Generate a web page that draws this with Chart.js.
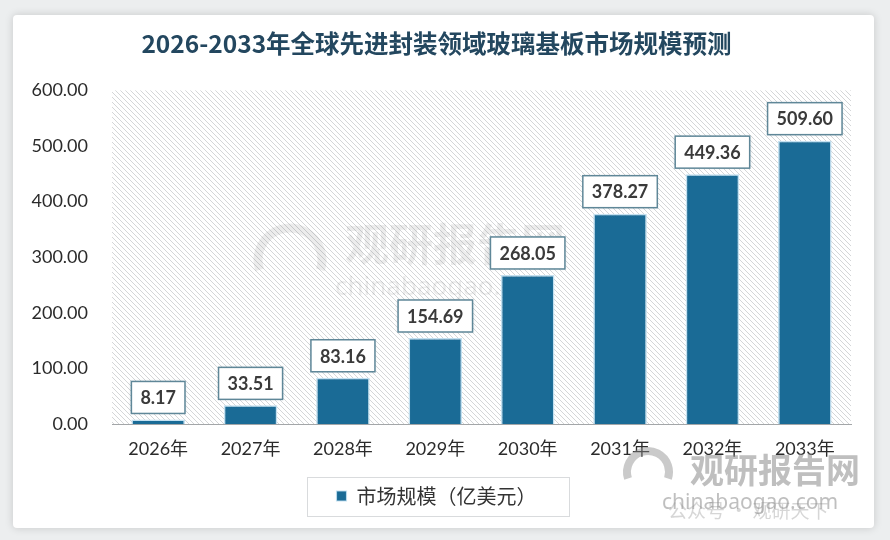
<!DOCTYPE html>
<html><head><meta charset="utf-8">
<script src="https://cdn.jsdelivr.net/npm/chart.js@4.4.0/dist/chart.umd.min.js"></script>
<style>
html,body{margin:0;padding:0;width:890px;height:540px;background:#eceeef;overflow:hidden}
#card{position:absolute;left:13px;top:15px;width:861px;height:513px;background:#fff;border-radius:4px;box-shadow:0 0 9px rgba(0,0,0,0.16)}
#wrap{position:absolute;left:0;top:0;width:890px;height:540px}
</style></head><body>
<div id="card"></div>
<div id="wrap"><canvas id="c" width="890" height="540"></canvas></div>
<script>
const titleText = '2026-2033年全球先进封装领域玻璃基板市场规模预测';
const categories = ['2026年','2027年','2028年','2029年','2030年','2031年','2032年','2033年'];
const seriesName = '市场规模（亿美元）';
const marketSize = [8.17, 33.51, 83.16, 154.69, 268.05, 378.27, 449.36, 509.60];
const yMin = 0, yMax = 600, yStep = 100;

const BAR_COLOR = '#1a6b96';
const FONT = "Lato, 'Noto Sans CJK SC', sans-serif";

function makeHatch(){
  const p = document.createElement('canvas');
  p.width = 5; p.height = 5;
  const g = p.getContext('2d');
  g.fillStyle = '#ffffff'; g.fillRect(0,0,5,5);
  g.strokeStyle = '#d4d6d8'; g.lineWidth = 1;
  g.beginPath();
  g.moveTo(-1,-1); g.lineTo(6,6);
  g.moveTo(-1,4); g.lineTo(1,6);
  g.moveTo(4,-1); g.lineTo(6,1);
  g.stroke();
  return p;
}

const bgPlugin = {
  id:'bg',
  beforeDraw(chart){
    const {ctx, chartArea:a} = chart;
    ctx.save();
    ctx.fillStyle = ctx.createPattern(makeHatch(),'repeat');
    ctx.fillRect(a.left, a.top, a.right-a.left, a.bottom-a.top);
    // faint central watermark
    ctx.globalAlpha = 0.11;
    ctx.fillStyle = '#555';
    ctx.font = "bold 44px 'Noto Sans CJK SC'";
    ctx.textBaseline = 'middle'; ctx.textAlign = 'left';
    ctx.fillText('观研报告网', 345, 244);
    ctx.font = "26px 'Noto Sans', sans-serif";
    ctx.fillText('chinabaogao.com', 335, 288);
    ctx.lineWidth = 9; ctx.strokeStyle = '#555';
    ctx.beginPath(); ctx.arc(290, 260, 32, Math.PI*0.9, Math.PI*2.1); ctx.stroke();
    ctx.restore();
  }
};

const labelPlugin = {
  id:'vals',
  afterDatasetsDraw(chart){
    const {ctx} = chart;
    const meta = chart.getDatasetMeta(0);
    ctx.save();
    ctx.font = "bold 18px " + FONT;
    ctx.textAlign = 'center'; ctx.textBaseline = 'middle';
    meta.data.forEach((bar,i)=>{
      const txt = marketSize[i].toFixed(2);
      const w = ctx.measureText(txt).width + 18;
      const h = 32;
      const bottom = bar.y - 6;
      const x0 = bar.x - w/2, y0 = bottom - h;
      ctx.shadowColor = 'rgba(0,60,90,0.18)'; ctx.shadowBlur = 3;
      ctx.fillStyle = '#fff';
      ctx.fillRect(x0, y0, w, h);
      ctx.shadowBlur = 0; ctx.shadowColor = 'transparent';
      ctx.strokeStyle = '#5f8798'; ctx.lineWidth = 1.5;
      ctx.strokeRect(x0, y0, w, h);
      ctx.fillStyle = '#3a3a3a';
      ctx.fillText(txt, bar.x, y0 + h/2 + 1);
    });
    ctx.restore();
  },
  afterDraw(chart){
    const {ctx} = chart;
    const lg = chart.legend;
    if (lg && lg.legendHitBoxes && lg.legendHitBoxes.length){
      const hb = lg.legendHitBoxes[0];
      const cy = hb.top + hb.height/2;
      ctx.save();
      ctx.strokeStyle = '#d9dbdd'; ctx.lineWidth = 1;
      ctx.strokeRect(Math.round(hb.left - 30)+0.5, Math.round(cy - 19.5)+0.5, Math.round(hb.width + 62), 39);
      ctx.restore();
    }
    // bottom-right watermark
    ctx.save();
    ctx.globalAlpha = 0.55;
    ctx.fillStyle = '#8a8a8a';
    ctx.font = "bold 34px 'Noto Sans CJK SC'";
    ctx.textBaseline = 'middle'; ctx.textAlign = 'left';
    ctx.fillText('观研报告网', 690, 470);
    ctx.font = "21px 'Noto Sans', sans-serif";
    ctx.fillText('chinabaogao.com', 662, 503);
    ctx.globalAlpha = 0.35;
    ctx.font = "19px 'Noto Sans CJK SC'";
    ctx.fillText('公众号 · 观研天下', 668, 511);
    ctx.globalAlpha = 0.45;
    ctx.lineWidth = 8; ctx.strokeStyle = '#8a8a8a';
    ctx.beginPath(); ctx.arc(648, 472, 21, Math.PI*0.9, Math.PI*2.1); ctx.stroke();
    ctx.restore();
  }
};

new Chart(document.getElementById('c'), {
  type:'bar',
  data:{
    labels: categories,
    datasets:[{
      label: seriesName,
      data: marketSize,
      backgroundColor: BAR_COLOR,
      borderColor: 'rgba(190,222,240,0.9)',
      borderWidth: {left:1.5, right:1.5, top:1.5, bottom:0},
      borderSkipped: false,
      categoryPercentage: 1,
      barPercentage: 0.58
    }]
  },
  options:{
    responsive:false,
    animation:false,
    devicePixelRatio: 1,
    layout:{padding:{left:22, right:39, top:0, bottom:24}},
    plugins:{
      title:{
        display:true, text:titleText,
        color:'#23475f',
        font:{family:"'Noto Sans CJK SC', sans-serif", size:24.5, weight:'bold', lineHeight:1.2},
        padding:{top:29, bottom:32}
      },
      legend:{
        display:true, position:'bottom',
        labels:{
          boxWidth:10, boxHeight:10, padding:10,
          color:'#333', font:{family:"'Noto Sans CJK SC', sans-serif", size:20}
        }
      },
      tooltip:{enabled:false}
    },
    scales:{
      y:{
        min:yMin, max:yMax,
        ticks:{stepSize:yStep, callback:v=>Number(v).toFixed(2), color:'#2b2b2b', padding:24, font:{family:FONT, size:18}},
        grid:{display:false, drawTicks:false},
        border:{display:false},
        afterFit(s){ s.width = 90; }
      },
      x:{
        ticks:{color:'#2b2b2b', padding:14, font:{family:FONT, size:18}},
        grid:{display:false, drawTicks:false},
        border:{display:true, color:'#a3a6a8', width:1},
        afterFit(s){ s.height = 52; }
      }
    }
  },
  plugins:[bgPlugin, labelPlugin]
});
</script>
</body></html>
